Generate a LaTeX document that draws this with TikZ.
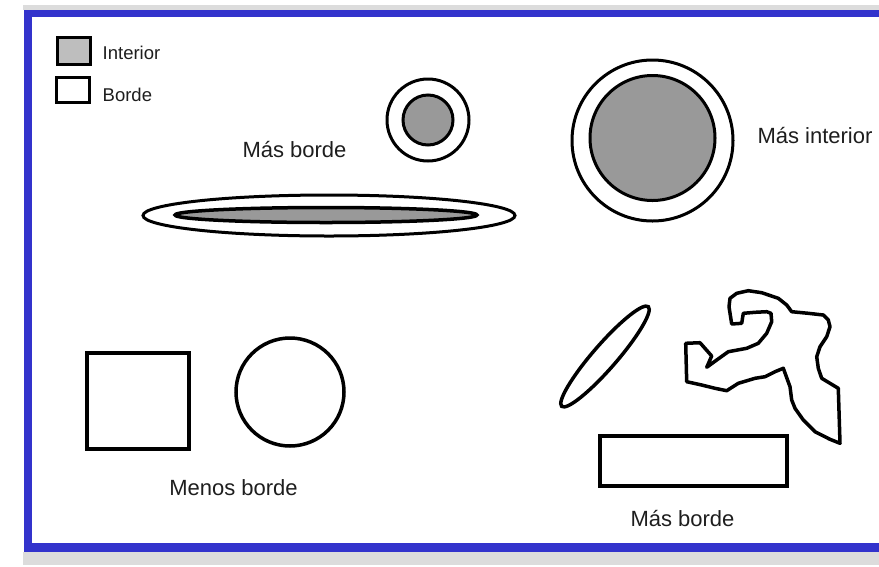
\documentclass[tikz,border=0pt]{standalone}
\usepackage{fontspec}
\setmainfont{Liberation Sans}
\definecolor{frameblue}{RGB}{51,51,204}
\definecolor{bandgray}{RGB}{220,220,220}
\definecolor{fillgray}{RGB}{153,153,153}
\definecolor{legendgray}{RGB}{190,190,190}
\definecolor{txt}{RGB}{30,30,30}
\begin{document}
\begin{tikzpicture}[x=1pt,y=-1pt,
  lbl/.style={inner sep=0pt,anchor=base,text=txt,font=\fontsize{22}{26}\selectfont},
  leg/.style={inner sep=0pt,anchor=base west,text=txt,font=\fontsize{18.5}{22}\selectfont},
  shp/.style={draw=black,line width=3pt},
  thk/.style={draw=black,line width=4pt}]
\useasboundingbox (0,0) rectangle (879,566);
% window bands and frame
\fill[bandgray] (23,5) rectangle (879,10);
\fill[bandgray] (23,552) rectangle (879,565);
\fill[frameblue] (24,10) rectangle (879,552);
\fill[white] (32,17) rectangle (879,543);
% legend
\draw[fill=legendgray,line width=3pt] (57,37) rectangle (90,64);
\draw[fill=white,line width=3pt] (56,77) rectangle (89,102);
\node[leg] (tint) at (102.5,59.3) {Interior};
\node[leg] (tbor) at (102.5,101.7) {Borde};
% small target circle
\draw[shp,fill=white] (428,120) circle (41pt);
\draw[shp,fill=fillgray] (428,120) circle (25pt);
\node[lbl] (mb1) at (294.5,157) {Más borde};
% flat ellipse
\draw[shp,fill=white] (329,215.5) ellipse [x radius=186pt, y radius=20.5pt];
\draw[draw=black,line width=3.5pt,fill=fillgray] (326,215) ellipse [x radius=151pt, y radius=7.5pt];
% big circle
\draw[shp,fill=white] (652.5,140.5) circle (80.5pt);
\draw[shp,fill=fillgray] (652.5,138) circle (62.5pt);
\node[lbl] (mi) at (815,143) {Más interior};
% bottom left
\draw[thk,fill=white] (86.5,353) rectangle (188.5,448.5);
\draw[shp,line width=3.5pt,fill=white] (290,392) circle (54pt);
\node[lbl] (menos) at (233.5,495) {Menos borde};
% bottom right
\draw[shp,line width=3.5pt] [rotate around={49:(605,356.5)}] (605,356.5) ellipse [x radius=66pt, y radius=12pt];
\draw[thk] (599.5,435.5) rectangle (786.5,485.5);
\draw[draw=black,line width=3.5pt,line join=round]
 (685.7,343.3) -- (700,342.7) -- (711.7,356) -- (706.7,367.3) -- (716.7,360)
 -- (728.3,351.7) -- (746.7,348.3) -- (758.3,343.3) -- (766.7,333.3) -- (771.7,321.7)
 -- (771,313.3) -- (766.7,311.7) -- (755,312.3) -- (743.3,313.3) -- (741.7,323.3)
 -- (731.7,324) -- (729,306.7) -- (730,298.3) -- (736.7,293.3) -- (748.3,290.7)
 -- (761.7,292.7) -- (778.3,298.3) -- (786.7,305) -- (791.7,311.7) -- (808.3,313.3)
 -- (823.3,315) -- (828.3,320) -- (830,326.7) -- (826.7,336.7) -- (820,346.7)
 -- (816.7,356.7) -- (818.3,368.3) -- (821.7,378.3) -- (838.3,388.3) -- (840,443.3)
 -- (830,439.3) -- (815,431.7) -- (803.3,420) -- (795,408.3) -- (791.7,400)
 -- (790,386.7) -- (783.3,368.3) -- (775,371.7) -- (765,376.7) -- (755,378.3)
 -- (738.3,383.3) -- (726.7,390.7) -- (715,388.3) -- (701.7,385) -- (686.7,381.7) -- cycle;
\node[lbl] (mb2) at (682.5,526) {Más borde};
\end{tikzpicture}
\end{document}
